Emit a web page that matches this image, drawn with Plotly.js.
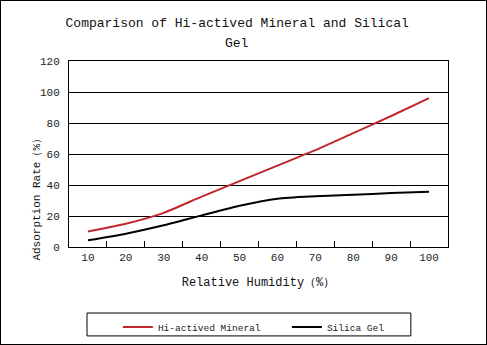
<!DOCTYPE html>
<html><head><meta charset="utf-8">
<script src="https://cdn.plot.ly/plotly-3.0.1.min.js"></script>
<style>html,body{margin:0;padding:0;background:#fff}#chart{width:487px;height:345px;box-sizing:border-box;border:1px solid #000}</style>
</head><body><div id="chart"></div>
<script>
const humidity = ['10','20','30','40','50','60','70','80','90','100'];
const mineral = [10, 15, 22, 32.5, 42.5, 52.5, 62.5, 73.5, 84.5, 96];
const silicaGel = [4.3, 8.6, 14, 20.4, 26.6, 31.2, 32.7, 33.7, 34.8, 35.7];
const yTicks = [0, 20, 40, 60, 80, 100, 120];

const mono = 'Liberation Mono, DejaVu Sans Mono, monospace';
const traces = [
  {x: humidity, y: mineral, name: 'Hi-actived Mineral', type: 'scatter', mode: 'lines',
   line: {color: '#c0272d', width: 2, shape: 'spline', smoothing: 0.5}},
  {x: humidity, y: silicaGel, name: 'Silica Gel', type: 'scatter', mode: 'lines',
   line: {color: '#000000', width: 2, shape: 'spline', smoothing: 0.6}}
];
const layout = {
  width: 485, height: 343,
  margin: {l: 68, r: 38, t: 60, b: 97, pad: 0, autoexpand: false},
  paper_bgcolor: '#fff', plot_bgcolor: '#fff',
  title: {text: 'Comparison of Hi-actived Mineral and Silical', font: {family: mono, size: 13, color: '#111'},
          x: 0.487, xanchor: 'center', y: 0.938, yanchor: 'middle', yref: 'container'},
  xaxis: {type: 'category', range: [-0.5, 9.5], tickson: 'boundaries', ticks: 'inside', ticklen: 6,
          tickcolor: '#000', showline: true, linecolor: '#000', linewidth: 1, mirror: true,
          showgrid: false, tickfont: {family: mono, size: 11, color: '#222'},
          title: {text: 'Relative Humidity（%）', font: {family: mono, size: 12, color: '#111'}, standoff: 14}},
  yaxis: {range: [0, 120], tickvals: yTicks, ticktext: yTicks.map(String), ticks: '',
          showline: true, linecolor: '#000', linewidth: 1, mirror: true,
          showgrid: true, gridcolor: '#000', gridwidth: 1, zeroline: false,
          ticklabelstandoff: 6, tickfont: {family: mono, size: 11, color: '#222'}},
  annotations: [
    {text: 'Adsorption Rate（%）', textangle: -90, xref: 'paper', yref: 'paper',
     x: -0.085, y: -0.085, xanchor: 'center', yanchor: 'bottom', showarrow: false,
     font: {family: mono, size: 11, color: '#111'}},
    {text: 'Gel', xref: 'paper', yref: 'paper', x: 0.443, y: 1.092, xanchor: 'center', yanchor: 'middle',
     showarrow: false, font: {family: mono, size: 13, color: '#111'}}
  ],
  shapes: [{type: 'rect', xref: 'paper', yref: 'paper', x0: 0.0475, x1: 0.902, y0: -0.355, y1: -0.478,
            line: {color: '#000', width: 1}, fillcolor: 'rgba(0,0,0,0)'}],
  showlegend: true,
  legend: {orientation: 'h', x: 0.129, xanchor: 'left', y: -0.352, yanchor: 'top',
           borderwidth: 0, entrywidth: 124, entrywidthmode: 'pixels',
           font: {family: mono, size: 9.5, color: '#222'}, bgcolor: 'rgba(0,0,0,0)'}
};
Plotly.newPlot('chart', traces, layout, {displayModeBar: false, staticPlot: true});
</script></body></html>
